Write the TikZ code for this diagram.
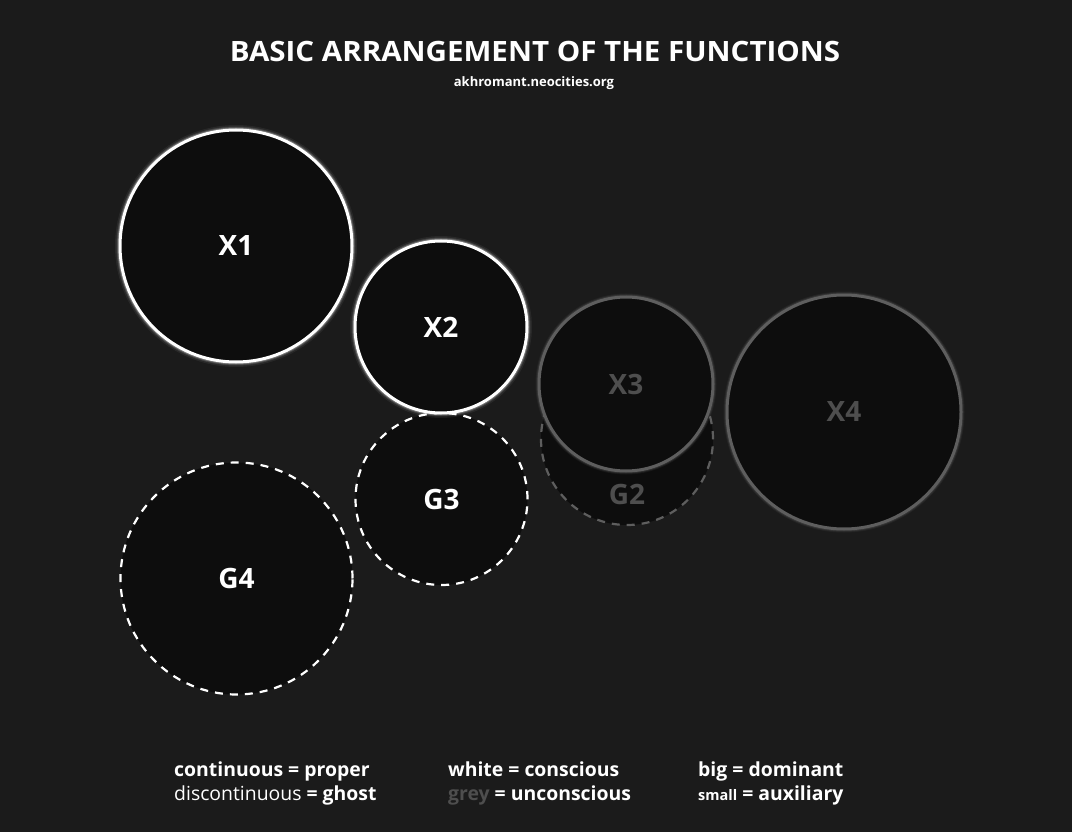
\documentclass[tikz,border=0pt]{standalone}
\usepackage{fontspec}
\setmainfont{Open Sans}
\definecolor{bgc}{HTML}{1B1B1B}
\definecolor{fillc}{HTML}{0D0D0D}
\definecolor{greyc}{HTML}{5E5E5E}
\definecolor{greyt}{HTML}{4E4E4E}
\tikzset{
  func/.style={circle, inner sep=0pt, fill=fillc, text=white,
    font=\bfseries\fontsize{28}{32}\selectfont},
  proper/.style={func, draw=white, line width=3pt,
    preaction={draw=white, line width=10pt, draw opacity=0.06},
    preaction={draw=white, line width=7pt, draw opacity=0.12},
    preaction={draw=white, line width=5pt, draw opacity=0.25}},
  ghostw/.style={func, draw=white, line width=2.2pt, dash pattern=on 8pt off 7pt},
  properg/.style={func, draw=greyc, line width=3pt, text=greyt,
    preaction={draw=greyc, line width=7pt, draw opacity=0.15},
    preaction={draw=greyc, line width=5pt, draw opacity=0.3}},
  ghostg/.style={func, draw=greyc, line width=2.2pt, dash pattern=on 8pt off 7pt, text=greyt},
  legend/.style={anchor=base west, inner sep=0pt, text=white,
    font=\fontsize{19.4}{22}\selectfont},
  legendb/.style={legend, font=\bfseries\fontsize{19.4}{22}\selectfont},
}
\begin{document}
\begin{tikzpicture}[x=1pt,y=-1pt]
\fill[bgc] (0,0) rectangle (1072,832);
\useasboundingbox (0,0) rectangle (1072,832);

\node[anchor=base, inner sep=0pt, text=white, font=\bfseries\fontsize{28}{30}\selectfont] (title) at (535,62) {\scalebox{1.055}[1]{BASIC ARRANGEMENT OF THE FUNCTIONS}};
\node[anchor=base, inner sep=0pt, text=white, font=\bfseries\fontsize{13}{16}\selectfont] (sub) at (534,87) {akhromant.neocities.org};

% ghosts first
\node[ghostg, minimum size=172pt] (G2) at (627,439) {};
\node[text=greyt, font=\bfseries\fontsize{28}{32}\selectfont, inner sep=0pt] (G2t) at (627,494) {G2};
\node[ghostw, minimum size=232pt] (G4) at (236.5,578.5) {G4};
\node[ghostw, minimum size=172pt] (G3) at (441.5,499) {G3};

\node[proper, minimum size=232pt] (X1) at (236,246) {X1};
\node[proper, minimum size=172pt] (X2) at (441,327) {X2};
\node[properg, minimum size=174pt] (X3) at (626,384) {X3};
\node[properg, minimum size=234pt] (X4) at (844,412) {X4};

% legend
\node[legendb] (l1) at (174,776) {continuous = proper};
\node[legend] (l2) at (174,800) {discontinuous \textbf{= ghost}};
\node[legendb] (l3) at (448,776) {white = conscious};
\node[legendb] (l4) at (448,800) {\textcolor{greyt}{grey} = unconscious};
\node[legendb] (l5) at (698,776) {big = dominant};
\node[legendb] (l6) at (698,800) {{\fontsize{14.5}{16}\selectfont small} = auxiliary};
\end{tikzpicture}
\end{document}
